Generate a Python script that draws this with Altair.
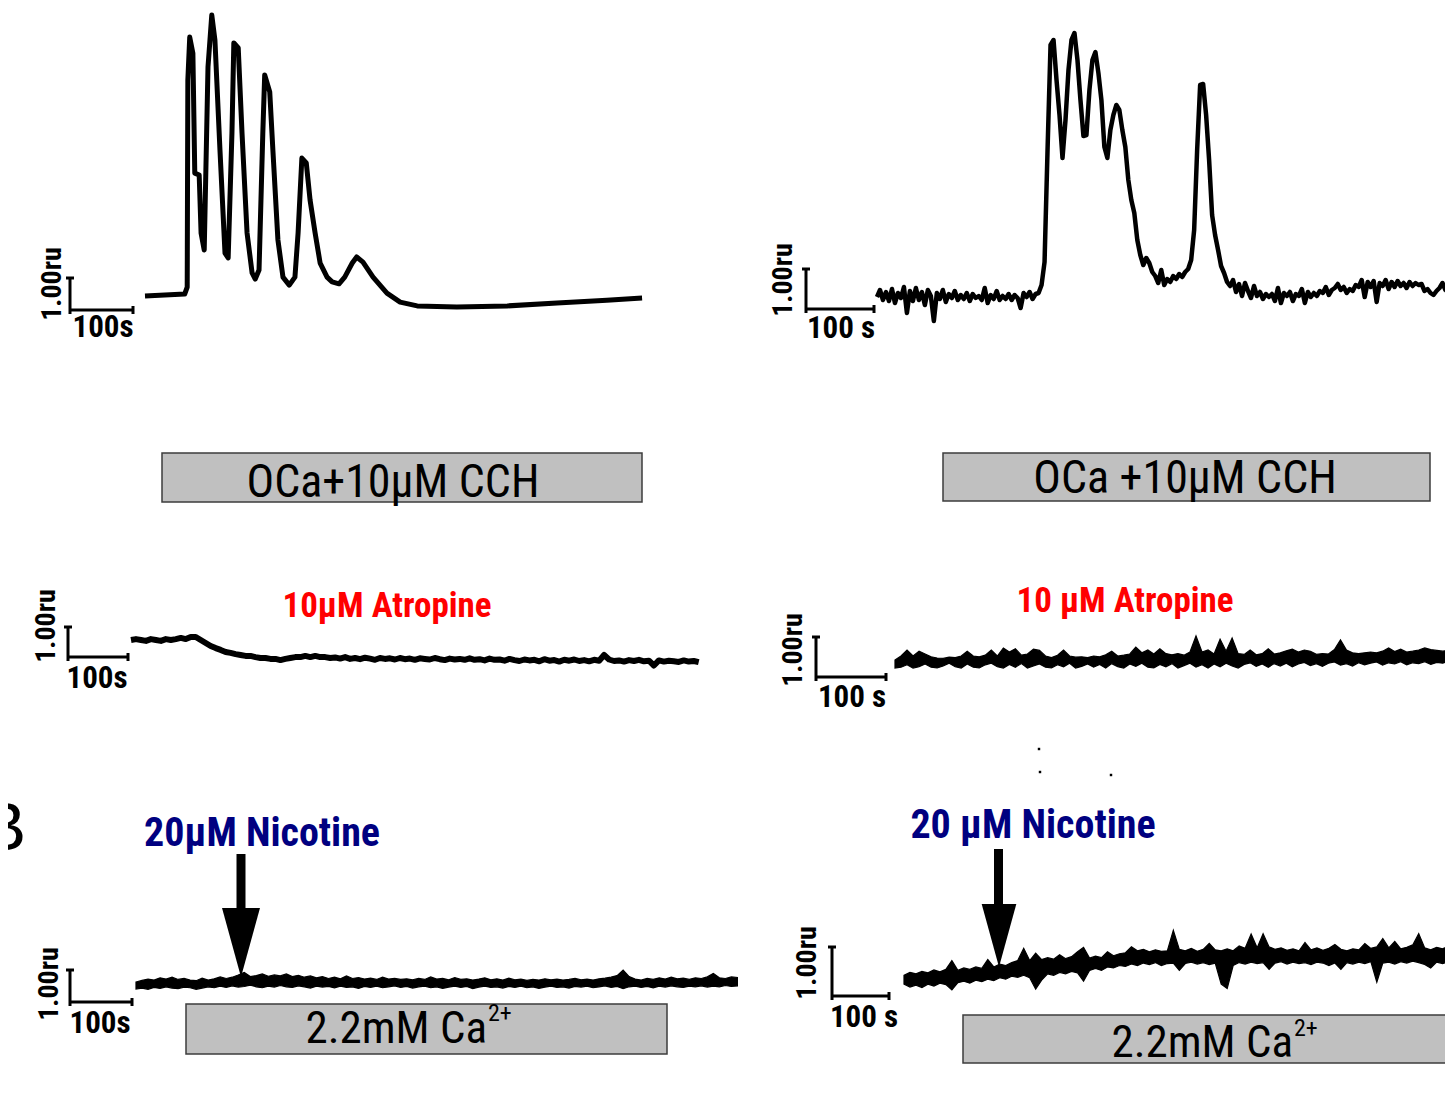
import altair as alt
import pandas as pd

# ---------------- traces: time (s) and signal (ru, relative to trace start) ----------------
AL_T = [0, 63, 67, 68, 71, 76, 79, 86, 89, 94, 100, 106, 111, 119, 127, 132, 138, 141, 148, 154,
        162, 170, 175, 181, 187, 190, 198, 203, 211, 219, 229, 238, 243, 249, 256, 262, 270, 278,
        289, 297, 308, 317, 329, 336, 346, 362, 384, 405, 432, 495, 575, 654, 733, 789]
AL_V = [0, 0.06, 0.28, 6.75, 8.09, 7.59, 3.84, 3.78, 1.97, 1.44, 7.16, 8.78, 8.0, 4.56, 1.34, 1.19,
        5.09, 7.91, 7.75, 5.09, 1.97, 0.72, 0.53, 0.81, 5.09, 6.91, 6.38, 4.56, 1.75, 0.59, 0.34,
        0.59, 1.97, 4.31, 4.16, 3.0, 1.97, 1.03, 0.59, 0.44, 0.38, 0.59, 1.03, 1.22, 1.06, 0.59,
        0.09, -0.19, -0.31, -0.34, -0.31, -0.22, -0.13, -0.06]

AR_DT = 4.4
AR_V = [0, 0.175, -0.075, 0.125, -0.1, 0.2, -0.15, 0.1, -0.025, 0.25,
        -0.4, 0.15, -0.1, 0.225, -0.075, 0.125, -0.2, 0.175, 0.025, -0.6,
        0.1, -0.05, 0.175, -0.125, 0.075, -0.025, 0.15, -0.075, 0.05, -0.05,
        0.1, -0.1, 0.075, -0.025, 0.025, -0.075, 0.225, -0.15, 0.05, -0.05,
        0.15, -0.075, 0.025, -0.05, 0.075, -0.075, 0.05, -0.025, -0.275, 0.1,
        0, 0.125, -0.05, 0.075, 0.1,
        0.3, 0.875, 3.675, 6.3, 6.425, 5.425, 4.55, 3.475, 4.425, 5.675,
        6.425, 6.6, 5.925, 4.925, 4.025, 4.05, 5.175, 5.925, 6.125, 5.6,
        4.925, 3.75, 3.475, 4.175, 4.55, 4.8, 4.675, 4.175, 3.75, 2.925,
        2.425, 2.1, 1.425, 1.05, 0.8, 0.975, 0.85, 0.625, 0.525, 0.35,
        0.675, 0.3, 0.45, 0.375, 0.525, 0.45, 0.575, 0.5, 0.625, 0.7,
        0.925, 1.675, 3.675, 5.3, 5.325, 4.55, 3.425, 2.05, 1.55, 1.175,
        0.775, 0.6, 0.375, 0.275, 0.425, 0.125, 0.325, 0.025, 0.35, 0.15,
        -0.025, 0.275, 0.025, 0.125, -0.05, 0.075, 0, 0.075, -0.1, 0.225,
        -0.15, 0.1, 0.025, 0.125, -0.1, 0.075, 0.025, 0.2, -0.15, 0.125,
        0, 0.1, 0.025, 0.15, 0.1, 0.25, 0.05, 0.175, 0.225, 0.325,
        0.175, 0.25, 0.1, 0.2, 0.15, 0.3, 0.25, 0.425, 0, 0.375,
        0.25, 0.4, -0.125, 0.35, 0.275, 0.425, 0.2, 0.375, 0.25, 0.4,
        0.275, 0.35, 0.225, 0.375, 0.275, 0.35, 0.3, 0.325, 0.15, 0.2,
        0.1, 0.05, 0.15, 0.225, 0.35, 0.175, 0.125]

ATL_DT = 8.3
ATL_V = [0, 0.03, 0, -0.03, 0.03, 0, -0.03, 0.03, 0, 0.03,
         0.07, 0.03, 0.1, 0.1, 0, -0.1, -0.2, -0.27, -0.33, -0.4,
         -0.43, -0.47, -0.5, -0.53, -0.53, -0.57, -0.6, -0.6, -0.63, -0.63,
         -0.67, -0.63, -0.6, -0.57, -0.57, -0.53, -0.57, -0.53, -0.57, -0.57,
         -0.6, -0.58, -0.62, -0.57, -0.63, -0.6, -0.64, -0.59, -0.62, -0.66,
         -0.6, -0.63, -0.61, -0.65, -0.6, -0.64, -0.62, -0.66, -0.61, -0.63,
         -0.65, -0.6, -0.64, -0.67, -0.62, -0.65, -0.63, -0.66, -0.61, -0.66,
         -0.64, -0.68, -0.62, -0.66, -0.65, -0.69, -0.63, -0.67, -0.7, -0.65,
         -0.68, -0.66, -0.71, -0.64, -0.69, -0.67, -0.72, -0.66, -0.69, -0.65,
         -0.7, -0.67, -0.71, -0.66, -0.69, -0.5, -0.65, -0.7, -0.68, -0.72,
         -0.67, -0.7, -0.66, -0.71, -0.69, -0.85, -0.68, -0.72, -0.69, -0.71,
         -0.73, -0.68, -0.72, -0.7, -0.74]

ATR_DT = 8.6
ATR_HI = [0.2, 0.3, 0.45, 0.3, 0.42, 0.35, 0.28, 0.25, 0.24, 0.27,
          0.26, 0.3, 0.42, 0.3, 0.28, 0.32, 0.45, 0.3, 0.5, 0.4,
          0.48, 0.32, 0.35, 0.47, 0.44, 0.3, 0.26, 0.32, 0.45, 0.3,
          0.27, 0.28, 0.26, 0.3, 0.28, 0.33, 0.42, 0.3, 0.32, 0.35,
          0.52, 0.38, 0.45, 0.35, 0.48, 0.36, 0.33, 0.36, 0.32, 0.4,
          0.8, 0.4, 0.45, 0.35, 0.72, 0.42, 0.75, 0.36, 0.34, 0.45,
          0.33, 0.36, 0.48, 0.35, 0.38, 0.43, 0.47, 0.4, 0.45, 0.42,
          0.34, 0.36, 0.35, 0.46, 0.7, 0.45, 0.38, 0.36, 0.38, 0.4,
          0.38, 0.42, 0.5, 0.41, 0.47, 0.4, 0.42, 0.45, 0.5, 0.46,
          0.44, 0.42, 0.45, 0.43]
ATR_LO = [0, 0.02, 0.08, 0, 0.03, 0.1, 0.02, 0, 0.05, 0.12,
          0.03, 0, 0.1, 0.02, 0, 0.08, 0.12, 0.03, 0, 0.09,
          0.02, 0.11, 0, 0.05, 0.1, 0.02, 0, 0.08, 0.03, 0.12,
          0, 0.04, 0.1, 0.02, 0.09, 0, 0.11, 0.03, 0, 0.1,
          0.04, 0.12, 0.02, 0, 0.09, 0.03, 0.11, 0, 0.06, 0.12,
          0.02, 0.08, 0, 0.1, 0.03, 0.12, 0.05, 0, 0.09, 0.13,
          0.04, 0.1, 0.02, 0.11, 0.05, 0.12, 0.03, 0.1, 0.14, 0.06,
          0.11, 0.04, 0.12, 0.15, 0.07, 0.11, 0.05, 0.13, 0.08, 0.12,
          0.15, 0.07, 0.13, 0.1, 0.16, 0.08, 0.13, 0.11, 0.16, 0.09,
          0.14, 0.12, 0.17, 0.12]

NCL_DT = 9.7
NCL_HI = [0.25, 0.3, 0.34, 0.31, 0.38, 0.34, 0.4, 0.33, 0.36, 0.31,
          0.29, 0.37, 0.31, 0.35, 0.41, 0.36, 0.4, 0.47, 0.55, 0.42,
          0.45, 0.5, 0.43, 0.47, 0.44, 0.5, 0.42, 0.46, 0.4, 0.44,
          0.38, 0.42, 0.36, 0.4, 0.35, 0.44, 0.36, 0.39, 0.34, 0.37,
          0.33, 0.4, 0.34, 0.36, 0.33, 0.35, 0.32, 0.36, 0.33, 0.41,
          0.34, 0.36, 0.32, 0.39, 0.33, 0.35, 0.31, 0.34, 0.38, 0.32,
          0.35, 0.31, 0.37, 0.32, 0.34, 0.3, 0.33, 0.31, 0.35, 0.32,
          0.34, 0.31, 0.33, 0.36, 0.32, 0.34, 0.31, 0.35, 0.37, 0.4,
          0.45, 0.62, 0.42, 0.34, 0.31, 0.36, 0.33, 0.38, 0.34, 0.4,
          0.35, 0.37, 0.33, 0.38, 0.36, 0.41, 0.52, 0.38, 0.36, 0.41,
          0.39]
NCL_LO = [0.03, 0.06, 0.02, 0.08, 0.05, 0.1, 0.06, 0.04, 0.09, 0.07,
          0.02, 0.06, 0.1, 0.07, 0.12, 0.08, 0.13, 0.09, 0.11, 0.15,
          0.1, 0.07, 0.12, 0.09, 0.14, 0.1, 0.08, 0.13, 0.1, 0.06,
          0.12, 0.09, 0.11, 0.07, 0.12, 0.08, 0.1, 0.05, 0.11, 0.08,
          0.12, 0.07, 0.1, 0.13, 0.08, 0.11, 0.06, 0.1, 0.12, 0.07,
          0.1, 0.05, 0.09, 0.12, 0.08, 0.11, 0.04, 0.09, 0.12, 0.08,
          0.1, 0.06, 0.11, 0.08, 0.12, 0.07, 0.1, 0.05, 0.09, 0.12,
          0.08, 0.1, 0.06, 0.11, 0.09, 0.12, 0.07, 0.1, 0.13, 0.08,
          0.11, 0.04, 0.1, 0.12, 0.08, 0.11, 0.07, 0.12, 0.09, 0.13,
          0.1, 0.08, 0.12, 0.1, 0.13, 0.09, 0.12, 0.1, 0.14, 0.11,
          0.13]

NCR_DT = 10.5
NCR_HI = [0.3, 0.36, 0.33, 0.38, 0.35, 0.41, 0.37, 0.42, 0.6, 0.4,
          0.45, 0.42, 0.47, 0.44, 0.62, 0.47, 0.53, 0.5, 0.56, 0.6,
          0.85, 0.6, 0.75, 0.62, 0.66, 0.63, 0.72, 0.64, 0.68, 0.78,
          0.87, 0.65, 0.69, 0.66, 0.78, 0.7, 0.74, 0.76, 0.88, 0.8,
          0.83, 0.78, 0.82, 0.79, 0.8, 1.22, 0.83, 0.8, 0.85, 0.79,
          0.83, 0.95, 0.82, 0.8, 0.84, 0.8, 0.9, 0.85, 1.14, 0.86,
          1.15, 0.88, 0.83, 0.86, 0.81, 0.84, 0.8, 0.97, 0.82, 0.86,
          0.81, 0.85, 0.93, 0.83, 0.8, 0.84, 0.82, 0.95, 0.85, 0.88,
          1.05, 0.86, 0.99, 0.84, 0.87, 0.92, 1.15, 0.86, 0.82, 0.87,
          0.84, 0.9]
NCR_LO = [0.12, 0.06, 0.1, 0.05, 0.12, 0.08, 0.14, 0.11, 0.0, 0.15,
          0.18, 0.14, 0.2, 0.17, 0.22, 0.19, 0.25, 0.22, 0.28, 0.26,
          0.3, 0.25, 0.02, 0.2, 0.33, 0.3, 0.36, 0.33, 0.38, 0.35,
          0.18, 0.4, 0.44, 0.4, 0.47, 0.45, 0.5, 0.48, 0.53, 0.5,
          0.55, 0.52, 0.56, 0.5, 0.54, 0.55, 0.4, 0.54, 0.57, 0.53,
          0.56, 0.52, 0.55, 0.12, 0.03, 0.5, 0.56, 0.53, 0.57, 0.54,
          0.56, 0.42, 0.55, 0.58, 0.53, 0.57, 0.54, 0.56, 0.52, 0.57,
          0.55, 0.5, 0.55, 0.42, 0.56, 0.53, 0.57, 0.54, 0.58, 0.16,
          0.55, 0.57, 0.53, 0.58, 0.55, 0.59, 0.56, 0.52, 0.45, 0.57,
          0.54, 0.58]

# ---------------- layout of the figure (page pixels) ----------------
PANELS = {
    "AL":  dict(x0=145, y0=296, px100=63, pxru=32, bx=70,  by=310, lab="100s"),
    "AR":  dict(x0=877, y0=297, px100=68, pxru=40, bx=806, by=309, lab="100 s"),
    "ATL": dict(x0=131, y0=640, px100=60, pxru=30, bx=68,  by=657, lab="100s"),
    "ATR": dict(x0=895, y0=668, px100=70, pxru=40, bx=816, by=677, lab="100 s"),
    "NCL": dict(x0=136, y0=990, px100=62, pxru=32, bx=70,  by=1002, lab="100s"),
    "NCR": dict(x0=904, y0=990, px100=57, pxru=49, bx=832, by=996, lab="100 s"),
}
RU_LABEL_POS = {"AL": (53, 284), "AR": (784, 280), "ATL": (47, 626),
                "ATR": (794, 650), "NCL": (50, 984), "NCR": (808, 963)}
S_LABEL_POS = {"AL": (103, 337), "AR": (841, 338), "ATL": (97, 688),
               "ATR": (852, 707), "NCL": (100, 1033), "NCR": (864, 1027)}

W, H = 1437, 1089
XS = alt.Scale(domain=[8, 8 + W], nice=False, zero=False)
YS = alt.Scale(domain=[8, 8 + H], nice=False, zero=False, reverse=True)
NARROW = "Roboto Condensed, Archivo Narrow, Liberation Sans Narrow, Liberation Sans, sans-serif"


def fx(p, t):
    return p["x0"] + t * p["px100"] / 100.0


def fy(p, v):
    return p["y0"] - v * p["pxru"]


def line_df(key, t, v):
    p = PANELS[key]
    return pd.DataFrame({"i": range(len(v)), "X": [fx(p, a) for a in t],
                         "Y": [fy(p, b) for b in v]})


def band_df(key, dt, hi, lo):
    p = PANELS[key]
    n = min(len(hi), len(lo))
    return pd.DataFrame({"X": [fx(p, k * dt) for k in range(n)],
                         "Y": [fy(p, hi[k]) for k in range(n)],
                         "Y2": [fy(p, lo[k]) for k in range(n)]})


def enc_xy(ch):
    return ch.encode(x=alt.X("X:Q", scale=XS, axis=None),
                     y=alt.Y("Y:Q", scale=YS, axis=None))


layers = []

# gray solution boxes
boxes = pd.DataFrame({
    "X": [162, 943, 186, 963], "X2": [642, 1430, 667, 1470],
    "Y": [453, 453, 1004, 1015], "Y2": [502, 501, 1054, 1063]})
layers.append(alt.Chart(boxes).mark_rect(fill="#c0c0c0", stroke="#3c3c3c", strokeWidth=1.5).encode(
    x=alt.X("X:Q", scale=XS, axis=None), x2="X2:Q",
    y=alt.Y("Y:Q", scale=YS, axis=None), y2="Y2:Q"))

# line traces
for key, t, v, w in [
    ("AL", AL_T, AL_V, 5),
    ("AR", [k * AR_DT for k in range(len(AR_V))], AR_V, 4.5),
    ("ATL", [k * ATL_DT for k in range(len(ATL_V))], ATL_V, 6),
]:
    layers.append(alt.Chart(line_df(key, t, v)).mark_line(
        color="black", strokeWidth=w, strokeJoin="round").encode(
        x=alt.X("X:Q", scale=XS, axis=None), y=alt.Y("Y:Q", scale=YS, axis=None),
        order="i:Q"))

# noisy band traces
for key, dt, hi, lo in [("ATR", ATR_DT, ATR_HI, ATR_LO),
                        ("NCL", NCL_DT, NCL_HI, NCL_LO),
                        ("NCR", NCR_DT, NCR_HI, NCR_LO)]:
    layers.append(alt.Chart(band_df(key, dt, hi, lo)).mark_area(
        color="black", stroke="black", strokeWidth=1.2).encode(
        x=alt.X("X:Q", scale=XS, axis=None), y=alt.Y("Y:Q", scale=YS, axis=None),
        y2="Y2:Q"))

# scale bars: 1.00 ru vertical, 100 s horizontal
rows = []
for key, p in PANELS.items():
    bx, by, top, right = p["bx"], p["by"], p["by"] - p["pxru"], p["bx"] + p["px100"]
    rows += [dict(X=bx, Y=by, X2=bx, Y2=top), dict(X=bx, Y=by, X2=right, Y2=by),
             dict(X=bx - 4, Y=top, X2=bx + 4, Y2=top), dict(X=right, Y=by - 4, X2=right, Y2=by + 4),
             dict(X=bx, Y=by, X2=bx, Y2=by + 4)]
layers.append(alt.Chart(pd.DataFrame(rows)).mark_rule(color="black", strokeWidth=3).encode(
    x=alt.X("X:Q", scale=XS, axis=None), x2="X2:Q",
    y=alt.Y("Y:Q", scale=YS, axis=None), y2="Y2:Q"))

ru_df = pd.DataFrame([{"X": RU_LABEL_POS[k][0], "Y": RU_LABEL_POS[k][1], "text": "1.00ru"} for k in PANELS])
layers.append(enc_xy(alt.Chart(ru_df).mark_text(
    font=NARROW, fontWeight="bold", fontSize=28, angle=270, baseline="middle", align="center")
).encode(text="text:N"))
s_df = pd.DataFrame([{"X": S_LABEL_POS[k][0], "Y": S_LABEL_POS[k][1], "text": PANELS[k]["lab"]} for k in PANELS])
layers.append(enc_xy(alt.Chart(s_df).mark_text(
    font=NARROW, fontWeight="bold", fontSize=31, baseline="alphabetic", align="center")
).encode(text="text:N"))

# arrows (nicotine application)
shafts = pd.DataFrame({"X": [241, 998.5], "Y": [854, 849], "Y2": [912, 908]})
layers.append(alt.Chart(shafts).mark_rule(color="black", strokeWidth=9).encode(
    x=alt.X("X:Q", scale=XS, axis=None), y=alt.Y("Y:Q", scale=YS, axis=None), y2="Y2:Q"))
heads = pd.DataFrame({"X": [241, 999], "Y": [942.5, 935.5], "S": [69 ** 2, 63 ** 2]})
layers.append(alt.Chart(heads).mark_point(
    shape="M -0.55 -1 L 0.55 -1 L 0 1 Z", filled=True, color="black", opacity=1, strokeWidth=0).encode(
    x=alt.X("X:Q", scale=XS, axis=None), y=alt.Y("Y:Q", scale=YS, axis=None),
    size=alt.Size("S:Q", scale=None)))

# stray marks
dots = pd.DataFrame({"X": [1039, 1040, 1111], "Y": [749, 772, 775]})
layers.append(alt.Chart(dots).mark_square(color="black", size=6, opacity=1).encode(
    x=alt.X("X:Q", scale=XS, axis=None), y=alt.Y("Y:Q", scale=YS, axis=None)))

# box labels
box_lab = pd.DataFrame({"X": [393, 1185], "Y": [497, 493], "text": ["OCa+10µM CCH", "OCa +10µM CCH"]})
layers.append(enc_xy(alt.Chart(box_lab).mark_text(
    font=NARROW, fontSize=46, baseline="alphabetic", align="center", color="black")
).encode(text="text:N"))
ca_lab = pd.DataFrame({"X": [487, 1293], "Y": [1043, 1057], "text": ["2.2mM Ca", "2.2mM Ca"]})
layers.append(enc_xy(alt.Chart(ca_lab).mark_text(
    font=NARROW, fontSize=45, baseline="alphabetic", align="right", color="black")
).encode(text="text:N"))
sup_lab = pd.DataFrame({"X": [488, 1294], "Y": [1021, 1036], "text": ["2+", "2+"]})
layers.append(enc_xy(alt.Chart(sup_lab).mark_text(
    font=NARROW, fontSize=24, baseline="alphabetic", align="left", color="black")
).encode(text="text:N"))

# drug labels
atr_lab = pd.DataFrame({"X": [387, 1125], "Y": [617, 612], "text": ["10µM Atropine", "10 µM Atropine"]})
layers.append(enc_xy(alt.Chart(atr_lab).mark_text(
    font=NARROW, fontWeight="bold", fontSize=35, baseline="alphabetic", align="center", color="#ff0000")
).encode(text="text:N"))
nic_lab = pd.DataFrame({"X": [262, 1033], "Y": [846, 838], "text": ["20µM Nicotine", "20 µM Nicotine"]})
layers.append(enc_xy(alt.Chart(nic_lab).mark_text(
    font=NARROW, fontWeight="bold", fontSize=40, baseline="alphabetic", align="center", color="#000080")
).encode(text="text:N"))

# panel letters (cut at the left edge, as in the original figure)
letters = pd.DataFrame({"X": [4, 26], "Y": [231, 850], "text": ["A", "B"]})
layers.append(enc_xy(alt.Chart(letters).mark_text(
    font="Liberation Sans, Arial, sans-serif", fontSize=68, baseline="alphabetic", align="right", color="black")
).encode(text="text:N"))

chart = alt.layer(*layers).properties(
    width=W, height=H, padding=0, autosize="none", background="white"
).configure_view(stroke=None)

chart.save("out.html", embed_options={"renderer": "svg", "actions": False})
